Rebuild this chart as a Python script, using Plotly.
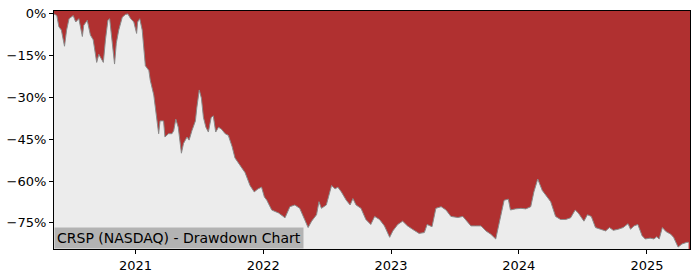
import plotly.graph_objects as go

dates = [
    "2020-05-13", "2020-05-21", "2020-05-27", "2020-06-03", "2020-06-12", "2020-06-18", "2020-06-25",
    "2020-07-07", "2020-07-14", "2020-07-23", "2020-08-02", "2020-08-06", "2020-08-16", "2020-08-25",
    "2020-09-02", "2020-09-12", "2020-09-18", "2020-09-23", "2020-10-01", "2020-10-07", "2020-10-14",
    "2020-10-19", "2020-10-26", "2020-11-02", "2020-11-07", "2020-11-14", "2020-11-24", "2020-12-03",
    "2020-12-10", "2020-12-18", "2020-12-27", "2021-01-04", "2021-01-07", "2021-01-13", "2021-01-20",
    "2021-01-29", "2021-02-08", "2021-02-12", "2021-02-22", "2021-03-01", "2021-03-08", "2021-03-12",
    "2021-03-22", "2021-03-26", "2021-04-05", "2021-04-15", "2021-04-20", "2021-04-26", "2021-05-03",
    "2021-05-12", "2021-05-18", "2021-05-28", "2021-06-03", "2021-06-11", "2021-06-21", "2021-06-25",
    "2021-07-02", "2021-07-08", "2021-07-14", "2021-07-21", "2021-07-28", "2021-08-05", "2021-08-11",
    "2021-08-18", "2021-08-26", "2021-09-03", "2021-09-14", "2021-09-23", "2021-10-04", "2021-10-12",
    "2021-10-26", "2021-11-10", "2021-11-24", "2021-12-06", "2021-12-17", "2021-12-27", "2022-01-04",
    "2022-01-11", "2022-01-25", "2022-02-14", "2022-03-04", "2022-03-18", "2022-04-01", "2022-04-15",
    "2022-04-29", "2022-05-09", "2022-05-19", "2022-06-02", "2022-06-09", "2022-06-16", "2022-06-30",
    "2022-07-15", "2022-07-25", "2022-08-02", "2022-08-12", "2022-08-26", "2022-09-06", "2022-09-14",
    "2022-09-23", "2022-10-07", "2022-10-21", "2022-11-04", "2022-11-15", "2022-11-29", "2022-12-13",
    "2022-12-28", "2023-01-06", "2023-01-20", "2023-02-03", "2023-02-17", "2023-03-03", "2023-03-22",
    "2023-04-06", "2023-04-14", "2023-04-28", "2023-05-09", "2023-05-24", "2023-06-07", "2023-06-21",
    "2023-07-11", "2023-07-25", "2023-08-08", "2023-08-17", "2023-08-31", "2023-09-15", "2023-09-29",
    "2023-10-13", "2023-10-27", "2023-11-06", "2023-11-20", "2023-12-02", "2023-12-08", "2023-12-22",
    "2024-01-07", "2024-01-21", "2024-02-04", "2024-02-13", "2024-02-24", "2024-03-08", "2024-03-19",
    "2024-04-01", "2024-04-15", "2024-04-29", "2024-05-14", "2024-05-28", "2024-06-10", "2024-06-19",
    "2024-07-05", "2024-07-15", "2024-07-26", "2024-08-07", "2024-08-21", "2024-09-05", "2024-09-16",
    "2024-09-27", "2024-10-11", "2024-10-25", "2024-11-08", "2024-11-15", "2024-11-25", "2024-12-06",
    "2024-12-18", "2024-12-27", "2025-01-10", "2025-01-21", "2025-01-29", "2025-02-05", "2025-02-14",
    "2025-02-24", "2025-03-10", "2025-03-18", "2025-03-31", "2025-04-11", "2025-04-25", "2025-04-30",
]

drawdown = [
    0.0, -0.6, -4.6, -5.8, -11.6, -5.8, -1.7,
    -0.6, -2.9, -1.7, -8.1, -4.1, -2.3, -7.6,
    -9.3, -17.4, -14.5, -15.7, -17.4, -9.3, -2.3,
    -1.7, -10.5, -18.0, -10.5, -5.8, -1.2, -0.2,
    0.0, -1.7, -2.9, -7.0, -2.9, -1.7, -5.8,
    -18.6, -20.3, -23.8, -29.1, -37.2, -43.0, -38.4,
    -38.4, -44.2, -43.0, -43.0, -41.9, -37.8, -40.7,
    -50.0, -46.5, -44.2, -45.3, -41.9, -38.4, -33.7,
    -27.3, -30.2, -37.2, -40.7, -42.4, -37.2, -36.6,
    -42.4, -40.7, -41.3, -43.0, -43.6, -47.7, -51.7,
    -54.1, -57.0, -61.6, -63.9, -62.8, -62.2, -65.7,
    -66.9, -70.4, -71.5, -73.2, -69.2, -68.6, -69.8,
    -73.8, -76.7, -74.4, -72.1, -67.4, -69.8, -68.6,
    -61.6, -62.8, -62.2, -63.9, -66.9, -68.6, -66.3,
    -68.6, -69.8, -73.8, -75.6, -72.7, -73.8, -76.1,
    -80.2, -77.9, -75.6, -74.4, -76.1, -77.3, -78.8,
    -78.5, -75.6, -76.4, -69.8, -69.2, -70.4, -72.7,
    -73.1, -72.7, -75.0, -76.1, -76.1, -76.1, -77.9,
    -79.1, -80.8, -75.0, -66.9, -66.5, -70.4, -70.0,
    -69.8, -70.0, -69.2, -63.9, -59.3, -63.4, -65.1,
    -67.4, -72.7, -73.8, -73.8, -73.2, -70.4, -71.5,
    -74.4, -72.1, -72.7, -76.7, -77.3, -77.9, -76.7,
    -77.7, -77.3, -76.7, -75.3, -77.3, -76.1, -75.6,
    -79.6, -80.8, -80.5, -80.8, -80.0, -80.8, -76.7,
    -78.1, -79.1, -80.2, -83.7, -82.6, -82.0, -82.0,
]

y_ticks = [0, -15, -30, -45, -60, -75]
y_tick_labels = ["0%", "\u221215%", "\u221230%", "\u221245%", "\u221260%", "\u221275%"]
x_ticks = ["2021-01-01", "2022-01-01", "2023-01-01", "2024-01-01", "2025-01-01"]
x_tick_labels = ["2021", "2022", "2023", "2024", "2025"]
title_text = "CRSP (NASDAQ) - Drawdown Chart"

RED = "#b03030"
GRAY_BG = "#ececec"

fig = go.Figure()
# baseline below visible range, gray area fills from it up to the drawdown line
fig.add_trace(go.Scatter(x=dates, y=[-200] * len(dates), mode="lines",
                         line=dict(width=0), hoverinfo="skip", showlegend=False))
fig.add_trace(go.Scatter(x=dates, y=drawdown, mode="lines", fill="tonexty",
                         fillcolor=GRAY_BG, line=dict(color="#8a8a8a", width=1),
                         showlegend=False))

fig.update_layout(
    width=700, height=280,
    margin=dict(l=53, r=10, t=7, b=28),
    paper_bgcolor="white",
    plot_bgcolor=RED,
    font=dict(family="DejaVu Sans", size=13, color="black"),
    xaxis=dict(
        range=["2020-05-13", "2025-05-04"],
        tickvals=x_ticks, ticktext=x_tick_labels,
        showgrid=False, zeroline=False,
        showline=True, linecolor="black", linewidth=1, mirror=True,
        ticks="outside", ticklen=4, tickcolor="black",
        tickfont=dict(family="DejaVu Sans", size=13),
    ),
    yaxis=dict(
        range=[-84.4, 1.05],
        tickvals=y_ticks, ticktext=y_tick_labels,
        showgrid=False, zeroline=False,
        showline=True, linecolor="black", linewidth=1, mirror=True,
        ticks="outside", ticklen=4, tickcolor="black",
        tickfont=dict(family="DejaVu Sans", size=13),
    ),
    annotations=[dict(
        text=title_text, xref="paper", yref="paper", x=0, y=0,
        xanchor="left", yanchor="bottom", showarrow=False,
        bgcolor="#b3b3b3", borderpad=2,
        font=dict(family="DejaVu Sans", size=14, color="black"),
    )],
)

fig.write_html("out.html")
